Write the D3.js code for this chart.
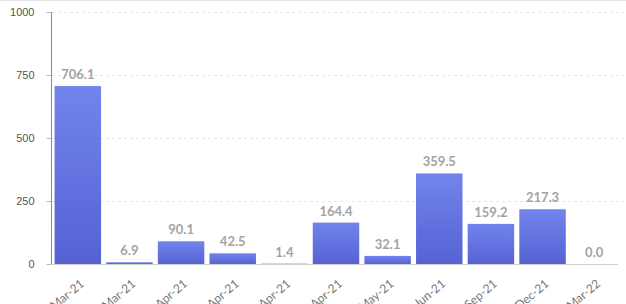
<!DOCTYPE html>
<html>
<head>
<meta charset="utf-8">
<script src="https://cdn.jsdelivr.net/npm/d3@7"></script>
<style>
  html, body { margin: 0; padding: 0; background: #fff; overflow: hidden; }
  svg { display: block; font-family: Lato, "Open Sans", sans-serif; }
</style>
</head>
<body>
<div id="chart"></div>
<script>
// values
const categories = ["Mar-21", "Mar-21 ", "Apr-21", "Apr-21 ", "Apr-21  ", "Apr-21   ",
                    "May-21", "Jun-21", "Sep-21", "Dec-21", "Mar-22"];
const values = [706.1, 6.9, 90.1, 42.5, 1.4, 164.4, 32.1, 359.5, 159.2, 217.3, 0.0];
const yTicks = [0, 250, 500, 750, 1000];

const width = 626, height = 304;
const svg = d3.select("#chart").append("svg").attr("width", width).attr("height", height);

const defs = svg.append("defs");
const grad = defs.append("linearGradient").attr("id", "barGrad")
    .attr("x1", 0).attr("y1", 0).attr("x2", 0).attr("y2", 1);
grad.append("stop").attr("offset", "0%").attr("stop-color", "#7284ec");
grad.append("stop").attr("offset", "100%").attr("stop-color", "#5662d4");

// faint top border
svg.append("line").attr("x1", 0).attr("x2", width).attr("y1", 0.5).attr("y2", 0.5)
    .attr("stroke", "#e3e3e3");

const x = d3.scaleBand().domain(categories).range([52, 620]).paddingInner(0.1).paddingOuter(0.05);
const y = d3.scaleLinear().domain([0, 1000]).range([264, 12]);

// gridlines
svg.append("g").selectAll("line").data(yTicks.filter(d => d > 0)).enter().append("line")
    .attr("x1", 52).attr("x2", width)
    .attr("y1", d => y(d) + 0.5).attr("y2", d => y(d) + 0.5)
    .attr("stroke", "#e6e6e6").attr("stroke-dasharray", "3,3");

// y axis
const yAxis = svg.append("g").attr("transform", "translate(51.5,0)")
    .call(d3.axisLeft(y).tickValues(yTicks).tickSize(5).tickPadding(12).tickFormat(d3.format("d")));
yAxis.select(".domain").attr("stroke", "#888").attr("d", `M0,${y(1000)}V${y(0)}`);
yAxis.selectAll(".tick line").attr("stroke", "#bbb");
yAxis.selectAll("text").attr("fill", "#555").style("font-size", "11px");

// bars
svg.append("g").selectAll("rect").data(values).enter().append("rect")
    .attr("x", (d, i) => x(categories[i]))
    .attr("y", d => y(d))
    .attr("width", x.bandwidth())
    .attr("height", d => y(0) - y(d))
    .attr("fill", "url(#barGrad)");

// x axis line
svg.append("line").attr("x1", 52).attr("x2", 618)
    .attr("y1", y(0) + 0.5).attr("y2", y(0) + 0.5).attr("stroke", "#cfcfcf");

// value labels
svg.append("g").selectAll("text").data(values).enter().append("text")
    .attr("x", (d, i) => x(categories[i]) + x.bandwidth() / 2)
    .attr("y", d => y(d) - 7)
    .attr("text-anchor", "middle")
    .attr("fill", "#a3a3a3")
    .style("font-size", "13px").style("font-weight", "bold")
    .text(d => d.toFixed(1));

// x tick labels
svg.append("g").selectAll("text").data(categories).enter().append("text")
    .attr("transform", d => `translate(${x(d) + x.bandwidth() / 2 + 7},${y(0) + 21}) rotate(-40)`)
    .attr("text-anchor", "end")
    .attr("fill", "#777")
    .style("font-size", "12px")
    .text(d => d.trim());
</script>
</body>
</html>
